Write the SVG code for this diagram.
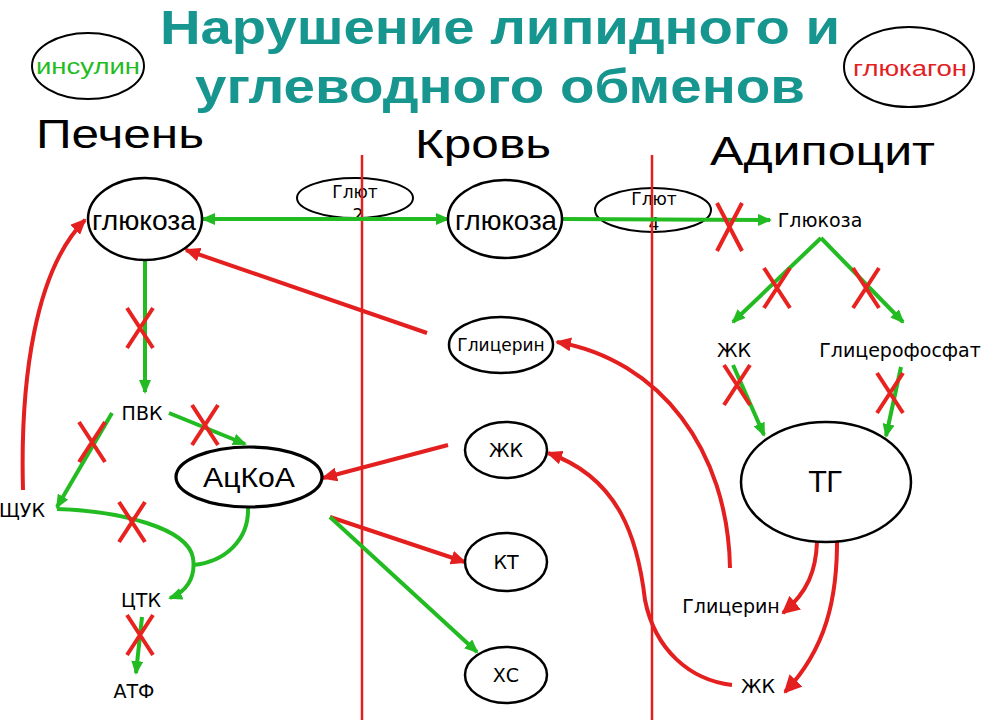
<svg xmlns="http://www.w3.org/2000/svg" xmlns:xlink="http://www.w3.org/1999/xlink" width="1000" height="720" viewBox="0 0 1000 720">
<style>
.bg{fill:#ffffff}
.title{font-family:"Liberation Sans",Arial,sans-serif;font-weight:bold;font-size:48px;fill:#17958f}
.hdr{font-family:"Liberation Sans",Arial,sans-serif;font-size:40px;fill:#000}
.big{font-family:"Liberation Sans",Arial,sans-serif;font-size:28px;fill:#000}
.lbl{font-family:"DejaVu Sans","Liberation Sans",sans-serif;font-size:19px;fill:#000}
.tg{font-family:"DejaVu Sans","Liberation Sans",sans-serif;font-size:28px;fill:#000}
.sm{font-family:"DejaVu Sans","Liberation Sans",sans-serif;font-size:17px;fill:#000}
.hor{font-family:"Liberation Sans",Arial,sans-serif;font-size:22px}
.node{fill:#fff;stroke:#000;stroke-width:2.5}
.thick{stroke-width:3.2}
.open{fill:none;stroke:#000;stroke-width:2}
.g{fill:none;stroke:#22bb22;stroke-width:4}
.r{fill:none;stroke:#e3201f;stroke-width:4}
.div{fill:none;stroke:#e3201f;stroke-width:2.5}
.x{fill:none;stroke:#e8221f;stroke-width:4}
</style>
<defs>
<marker id="ag" viewBox="0 0 14 12" refX="12" refY="6" markerWidth="14" markerHeight="12" markerUnits="userSpaceOnUse" orient="auto-start-reverse"><path d="M0,0 L14,6 L0,12 z" fill="#22bb22"/></marker>
<marker id="ar" viewBox="0 0 16 14" refX="14" refY="7" markerWidth="16" markerHeight="14" markerUnits="userSpaceOnUse" orient="auto"><path d="M0,0 L16,7 L0,14 z" fill="#e3201f"/></marker>
<marker id="ar2" viewBox="0 0 18 18" refX="16" refY="9" markerWidth="18" markerHeight="18" markerUnits="userSpaceOnUse" orient="auto"><path d="M0,0 L18,9 L0,18 z" fill="#e3201f"/></marker>
<path id="xm" d="M-13,-20 L13,20 M13,-20 L-13,20"/>
</defs>
<rect class="bg" x="0" y="0" width="1000" height="720"/>

<g id="title">
<text class="title" x="160" y="44" textLength="680" lengthAdjust="spacingAndGlyphs">Нарушение липидного и</text>
<text class="title" x="195" y="103" textLength="610" lengthAdjust="spacingAndGlyphs">углеводного обменов</text>
</g>

<g id="insulin">
<ellipse class="open" cx="88" cy="66" rx="56" ry="33"/>
<text class="hor" x="88" y="74" text-anchor="middle" fill="#22bb22" textLength="104" lengthAdjust="spacingAndGlyphs">инсулин</text>
</g>
<g id="glucagon">
<ellipse class="open" cx="909" cy="67" rx="65" ry="40"/>
<text class="hor" x="910" y="76" text-anchor="middle" fill="#e3201f" textLength="114" lengthAdjust="spacingAndGlyphs">глюкагон</text>
</g>

<g id="headers">
<text class="hdr" x="36" y="148" textLength="168" lengthAdjust="spacingAndGlyphs">Печень</text>
<text class="hdr" x="415" y="158" textLength="136" lengthAdjust="spacingAndGlyphs">Кровь</text>
<text class="hdr" x="710" y="165" textLength="225" lengthAdjust="spacingAndGlyphs">Адипоцит</text>
</g>

<g id="glut2">
<ellipse class="open" cx="355" cy="198" rx="58" ry="20" stroke-width="1.6"/>
<text class="sm" x="355" y="198" text-anchor="middle">Глют</text>
<text class="sm" x="358" y="221" text-anchor="middle">2</text>
</g>
<g id="glut4">
<ellipse class="open" cx="653" cy="210" rx="58" ry="22" stroke-width="1.6"/>
<text class="sm" x="654" y="205" text-anchor="middle">Глют</text>
<text class="sm" x="654" y="230" text-anchor="middle">4</text>
</g>

<g id="connectors">
<line class="div" x1="362" y1="155" x2="362" y2="720"/>
<line class="div" x1="652" y1="155" x2="652" y2="720"/>
<line class="g" x1="203" y1="219" x2="448" y2="219" marker-start="url(#ag)" marker-end="url(#ag)"/>
<line class="g" x1="563" y1="219" x2="770" y2="220" marker-end="url(#ag)"/>
<line class="g" x1="145" y1="261" x2="145" y2="392" marker-end="url(#ag)"/>
<line class="g" x1="169" y1="413" x2="245" y2="444" marker-end="url(#ag)"/>
<line class="g" x1="112" y1="413" x2="57" y2="507" marker-end="url(#ag)"/>
<path class="g" d="M57,509 C120,511 188,528 193,558 C196,578 186,592 170,598" marker-end="url(#ag)"/>
<path class="g" d="M248,508 C249,540 225,562 193,565"/>
<line class="g" x1="142" y1="617" x2="136" y2="673" marker-end="url(#ag)"/>
<path class="r" d="M23,490 C20,380 35,270 85,220" marker-end="url(#ar)"/>
<line class="r" x1="427" y1="333" x2="186" y2="250" marker-end="url(#ar)"/>
<line class="r" x1="448" y1="445" x2="323" y2="478" marker-end="url(#ar)"/>
<line class="r" x1="330" y1="517" x2="465" y2="562" marker-end="url(#ar)"/>
<line class="g" x1="330" y1="517" x2="477" y2="652" marker-end="url(#ag)"/>
<line class="g" x1="821" y1="238" x2="733" y2="322" marker-end="url(#ag)"/>
<line class="g" x1="821" y1="238" x2="903" y2="322" marker-end="url(#ag)"/>
<line class="g" x1="733" y1="365" x2="764" y2="435" marker-end="url(#ag)"/>
<line class="g" x1="901" y1="367" x2="886" y2="436" marker-end="url(#ag)"/>
<path class="r" d="M817,542 C816,570 808,592 783,613" marker-end="url(#ar2)"/>
<path class="r" d="M837,535 C838,600 825,650 785,692" marker-end="url(#ar2)"/>
<path class="r" d="M730,568 C728,450 660,360 557,342" marker-end="url(#ar)"/>
<path class="r" d="M732,685 C690,680 655,650 645,600 C638,540 620,478 548,453" marker-end="url(#ar)"/>
</g>

<g id="blocks">
<use class="x" xlink:href="#xm" href="#xm" x="140" y="328"/>
<use class="x" xlink:href="#xm" href="#xm" x="205" y="425"/>
<use class="x" xlink:href="#xm" href="#xm" x="92" y="442"/>
<use class="x" xlink:href="#xm" href="#xm" x="132" y="522"/>
<use class="x" xlink:href="#xm" href="#xm" x="140" y="635"/>
<path class="x" d="M717,203 L742,251 M742,203 L717,251"/>
<use class="x" xlink:href="#xm" href="#xm" x="777" y="288"/>
<use class="x" xlink:href="#xm" href="#xm" x="866" y="288"/>
<use class="x" xlink:href="#xm" href="#xm" x="737" y="385"/>
<use class="x" xlink:href="#xm" href="#xm" x="890" y="393"/>
</g>

<g id="liver-glucose">
<ellipse class="node" cx="145" cy="219" rx="57" ry="41"/>
<text class="big" x="144" y="230" text-anchor="middle" textLength="104" lengthAdjust="spacingAndGlyphs">глюкоза</text>
</g>
<g id="blood-glucose">
<ellipse class="node" cx="505" cy="219" rx="57" ry="39"/>
<text class="big" x="506" y="230" text-anchor="middle" textLength="102" lengthAdjust="spacingAndGlyphs">глюкоза</text>
</g>
<g id="pvk"><text class="lbl" x="142" y="420" text-anchor="middle">ПВК</text></g>
<g id="shchuk"><text class="lbl" x="22" y="517" text-anchor="middle">ЩУК</text></g>
<g id="acoa">
<ellipse class="node thick" cx="249" cy="477" rx="73" ry="30"/>
<text class="big" x="249" y="487" text-anchor="middle" textLength="92" lengthAdjust="spacingAndGlyphs">АцКоА</text>
</g>
<g id="ctk"><text class="lbl" x="141" y="607" text-anchor="middle">ЦТК</text></g>
<g id="atf"><text class="lbl" x="134" y="698" text-anchor="middle">АТФ</text></g>

<g id="blood-glycerol">
<ellipse class="node" cx="501" cy="345" rx="52" ry="28"/>
<text class="sm" x="501" y="351" text-anchor="middle">Глицерин</text>
</g>
<g id="blood-fa">
<ellipse class="node" cx="506" cy="450" rx="41" ry="28"/>
<text class="lbl" x="506" y="457" text-anchor="middle">ЖК</text>
</g>
<g id="kt">
<ellipse class="node" cx="506" cy="562" rx="41" ry="29"/>
<text class="lbl" x="506" y="569" text-anchor="middle">КТ</text>
</g>
<g id="hs">
<ellipse class="node" cx="506" cy="675" rx="41" ry="28"/>
<text class="lbl" x="506" y="682" text-anchor="middle">ХС</text>
</g>

<g id="adipo-glucose"><text class="lbl" x="820" y="227" text-anchor="middle">Глюкоза</text></g>
<g id="adipo-fa"><text class="lbl" x="734" y="357" text-anchor="middle">ЖК</text></g>
<g id="glycerophosphate"><text class="lbl" x="900" y="357" text-anchor="middle">Глицерофосфат</text></g>
<g id="tg">
<ellipse class="node" cx="826" cy="482" rx="85" ry="60"/>
<text class="tg" x="826" y="492" text-anchor="middle">ТГ</text>
</g>
<g id="adipo-glycerol"><text class="lbl" x="731" y="613" text-anchor="middle">Глицерин</text></g>
<g id="adipo-fa2"><text class="lbl" x="758" y="693" text-anchor="middle">ЖК</text></g>
</svg>
